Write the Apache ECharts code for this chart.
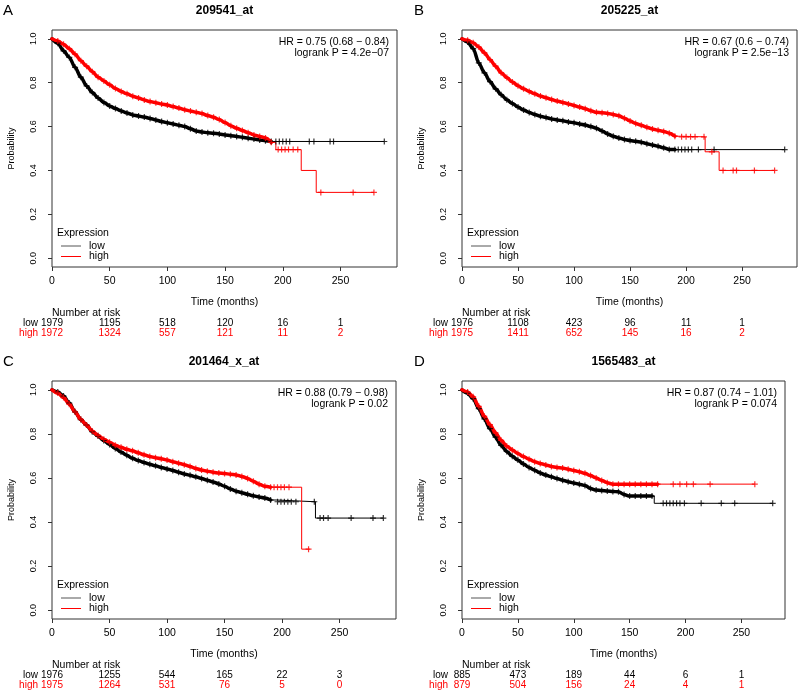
<!DOCTYPE html>
<html>
<head>
<meta charset="utf-8">
<script src="https://cdn.jsdelivr.net/npm/echarts@6/dist/echarts.min.js"></script>
<style>
  html, body { margin: 0; padding: 0; background: #fff; }
  #main { width: 800px; height: 695px; }
</style>
</head>
<body>
<div id="main"></div>
<script>
// time grid (months) for the dense part of the curves
var months = [0,5,10,15,20,25,30,35,40,45,50,55,60,65,70,75,80,85,90,95,100,105,110,115,120,125,130,135,140,145,150,155,160,165,170,175,180,185,190];
var xTicks = [0,50,100,150,200,250];
var yTicks = [0,0.2,0.4,0.6,0.8,1.0];

var titles = ['209541_at', '205225_at', '201464_x_at', '1565483_at'];
var hrLines = [
    ['HR = 0.75 (0.68 \u2212 0.84)', 'logrank P = 4.2e\u221207'],
    ['HR = 0.67 (0.6 \u2212 0.74)', 'logrank P = 2.5e\u221213'],
    ['HR = 0.88 (0.79 \u2212 0.98)', 'logrank P = 0.02'],
    ['HR = 0.87 (0.74 \u2212 1.01)', 'logrank P = 0.074']
];

// A : 209541_at
var aLow = [1.0,0.98,0.945,0.915,0.87,0.825,0.785,0.755,0.73,0.71,0.694,0.682,0.671,0.662,0.653,0.648,0.643,0.637,0.63,0.623,0.617,0.612,0.606,0.6,0.59,0.58,0.575,0.572,0.57,0.566,0.562,0.558,0.555,0.551,0.547,0.543,0.539,0.535,0.532];
var aLowTail = [[288,0.532]];
var aLowCens = [[194,0.532],[197,0.532],[200,0.532],[203,0.532],[206,0.532],[223,0.532],[227,0.532],[241,0.532],[244,0.532],[288,0.532]];
var aHigh = [1.0,0.99,0.975,0.955,0.93,0.9,0.875,0.85,0.825,0.808,0.79,0.773,0.76,0.749,0.738,0.73,0.721,0.714,0.709,0.703,0.698,0.691,0.684,0.677,0.671,0.665,0.659,0.65,0.642,0.632,0.618,0.604,0.592,0.582,0.572,0.562,0.555,0.548,0.528];
var aHighTail = [[194,0.495],[216,0.40],[229,0.30],[279,0.30]];
var aHighCens = [[196,0.495],[199,0.495],[202,0.495],[205,0.495],[209,0.495],[213,0.495],[233,0.30],[261,0.30],[279,0.30]];
var aRiskLow = [1979,1195,518,120,16,1];
var aRiskHigh = [1972,1324,557,121,11,2];

// B : 205225_at
var bLow = [1.0,0.985,0.955,0.89,0.845,0.805,0.772,0.745,0.722,0.705,0.689,0.675,0.664,0.655,0.647,0.641,0.635,0.63,0.626,0.621,0.617,0.612,0.607,0.6,0.592,0.58,0.566,0.556,0.548,0.541,0.536,0.533,0.529,0.522,0.516,0.51,0.503,0.496,0.495];
var bLowTail = [[288,0.495]];
var bLowCens = [[193,0.495],[196,0.495],[199,0.495],[202,0.495],[205,0.495],[211,0.495],[225,0.495],[288,0.495]];
var bHigh = [1.0,0.993,0.982,0.962,0.936,0.905,0.875,0.845,0.823,0.803,0.786,0.772,0.76,0.749,0.739,0.731,0.723,0.716,0.71,0.703,0.696,0.689,0.681,0.672,0.665,0.663,0.66,0.655,0.649,0.638,0.625,0.614,0.606,0.597,0.589,0.583,0.578,0.57,0.556];
var bHighTail = [[195,0.553],[217,0.485],[229.5,0.40],[279,0.40]];
var bHighCens = [[196,0.553],[200,0.553],[204,0.553],[208,0.553],[216,0.553],[223,0.485],[233,0.40],[242,0.40],[245,0.40],[261,0.40],[279,0.40]];
var bRiskLow = [1976,1108,423,96,11,1];
var bRiskHigh = [1975,1411,652,145,16,2];

// C : 201464_x_at
var cLow = [1.0,0.99,0.972,0.94,0.9,0.865,0.84,0.81,0.79,0.77,0.752,0.734,0.718,0.703,0.689,0.679,0.67,0.662,0.655,0.648,0.641,0.634,0.626,0.618,0.612,0.605,0.598,0.59,0.582,0.573,0.562,0.55,0.54,0.533,0.526,0.519,0.514,0.509,0.5];
var cLowTail = [[195,0.492],[229,0.418],[288,0.418]];
var cLowCens = [[196,0.492],[199,0.492],[202,0.492],[205,0.492],[208,0.492],[212,0.492],[228,0.492],[233,0.418],[236,0.418],[240,0.418],[260,0.418],[279,0.418],[288,0.418]];
var cHigh = [1.0,0.985,0.965,0.935,0.9,0.866,0.84,0.813,0.793,0.776,0.762,0.749,0.739,0.73,0.723,0.714,0.705,0.697,0.692,0.687,0.681,0.674,0.667,0.66,0.652,0.643,0.636,0.631,0.626,0.622,0.62,0.617,0.614,0.607,0.598,0.585,0.572,0.562,0.558];
var cHighTail = [[217,0.277],[224,0.277]];
var cHighCens = [[193,0.558],[196,0.558],[199,0.558],[202,0.558],[206,0.558],[223,0.277]];
var cRiskLow = [1976,1255,544,165,22,3];
var cRiskHigh = [1975,1264,531,76,5,0];

// D : 1565483_at
var dLow = [1.0,0.985,0.96,0.915,0.868,0.824,0.785,0.748,0.72,0.698,0.681,0.663,0.648,0.635,0.622,0.613,0.605,0.597,0.59,0.583,0.577,0.572,0.566,0.552,0.545,0.543,0.541,0.539,0.537,0.525,0.518,0.518,0.518,0.518,0.518];
var dLowTail = [[172,0.485],[278,0.485]];
var dLowCens = [[180,0.485],[183,0.485],[186,0.485],[189,0.485],[192,0.485],[195,0.485],[199,0.485],[214,0.485],[232,0.485],[244,0.485],[278,0.485]];
var dHigh = [1.0,0.99,0.968,0.925,0.88,0.842,0.805,0.771,0.745,0.727,0.711,0.697,0.685,0.674,0.666,0.659,0.652,0.648,0.645,0.64,0.634,0.628,0.621,0.611,0.6,0.589,0.578,0.572,0.572,0.572,0.572,0.572,0.572,0.572,0.572,0.572];
var dHighTail = [[262,0.572]];
var dHighCens = [[189,0.572],[195,0.572],[201,0.572],[207,0.572],[222,0.572],[262,0.572]];
var dRiskLow = [885,473,189,44,6,1];
var dRiskHigh = [879,504,156,24,4,1];

var RED = '#ff0000';
var INK = '#000';
var BOX = '#333';
var FONT = '"Liberation Sans", Arial, Helvetica, sans-serif';
var PLUS = 'path://M-1,-5H1V5H-1Z M-5,-1H5V1H-5Z';

// layout of the four panels
var panels = [
    { left: 52,  top: 30,  width: 345, height: 237, xMax: 299, letter: 'A', lx: 3,   ly: 11,
      low: aLow, lowTail: aLowTail, lowCens: aLowCens, high: aHigh, highTail: aHighTail, highCens: aHighCens, rLow: aRiskLow, rHigh: aRiskHigh },
    { left: 462, top: 30,  width: 335, height: 237, xMax: 299, letter: 'B', lx: 414, ly: 11,
      low: bLow, lowTail: bLowTail, lowCens: bLowCens, high: bHigh, highTail: bHighTail, highCens: bHighCens, rLow: bRiskLow, rHigh: bRiskHigh },
    { left: 52,  top: 381, width: 344, height: 238, xMax: 299, letter: 'C', lx: 3,   ly: 362,
      low: cLow, lowTail: cLowTail, lowCens: cLowCens, high: cHigh, highTail: cHighTail, highCens: cHighCens, rLow: cRiskLow, rHigh: cRiskHigh },
    { left: 462, top: 381, width: 323, height: 238, xMax: 289, letter: 'D', lx: 414, ly: 362,
      low: dLow, lowTail: dLowTail, lowCens: dLowCens, high: dHigh, highTail: dHighTail, highCens: dHighCens, rLow: dRiskLow, rHigh: dRiskHigh }
];

function curve(S) {
    var pts = [];
    for (var i = 0; i < S.length; i++) pts.push([months[i], S[i]]);
    return pts;
}
function tailCurve(S, tail) {
    return [[months[S.length - 1], S[S.length - 1]]].concat(tail);
}
function censors(S, tail) {
    var pts = [];
    for (var i = 1; i < S.length; i++) pts.push([months[i], S[i]]);
    return pts.concat(tail);
}

var grids = [], xAxes = [], riskAxes = [], yAxes = [], series = [], graphics = [];

panels.forEach(function (p, i) {
    var bottom = p.top + p.height;
    grids.push({
        left: p.left, top: p.top, width: p.width, height: p.height,
        show: true, borderColor: BOX, borderWidth: 1, outerBoundsMode: 'none'
    });
    xAxes.push({
        gridIndex: i, type: 'value', min: 0, max: p.xMax,
        name: 'Time (months)', nameLocation: 'middle', nameGap: 30, nameMoveOverlap: false,
        nameTextStyle: { fontSize: 10.5, color: INK, fontFamily: FONT },
        axisLine: { show: false, onZero: false },
        axisTick: { show: true, length: 4, customValues: xTicks, lineStyle: { color: BOX } },
        axisLabel: { customValues: xTicks, margin: 9, fontSize: 10.5, color: INK, fontFamily: FONT },
        splitLine: { show: false }
    });
    (function (rLow, rHigh) {
        riskAxes.push({
            gridIndex: i, type: 'value', min: 0, max: p.xMax, position: 'bottom', offset: 42,
            axisLine: { show: false, onZero: false }, axisTick: { show: false }, splitLine: { show: false },
            axisLabel: {
                customValues: xTicks, margin: 9, fontFamily: FONT,
                formatter: function (v) {
                    var k = xTicks.indexOf(v);
                    return '{l|' + rLow[k] + '}\n{h|' + rHigh[k] + '}';
                },
                rich: {
                    l: { color: INK, fontSize: 10, lineHeight: 10, fontFamily: FONT },
                    h: { color: RED, fontSize: 10, lineHeight: 10, fontFamily: FONT }
                }
            }
        });
    })(p.rLow, p.rHigh);
    yAxes.push({
        gridIndex: i, type: 'value', min: -0.04, max: 1.04,
        name: 'Probability', nameLocation: 'middle', nameGap: 36, nameRotate: 90, nameMoveOverlap: false,
        nameTextStyle: { fontSize: 9, color: INK, fontFamily: FONT },
        axisLine: { show: false, onZero: false },
        axisTick: { show: true, length: 4, customValues: yTicks, lineStyle: { color: BOX } },
        axisLabel: {
            customValues: yTicks, rotate: 90, margin: 14, fontSize: 9, color: INK, fontFamily: FONT,
            formatter: function (v) { return v.toFixed(1); }
        },
        splitLine: { show: false }
    });

    [[p.low, p.lowTail, p.lowCens, INK], [p.high, p.highTail, p.highCens, RED]].forEach(function (c) {
        // dense early part: many censored cases merge into a thick band
        series.push({
            type: 'line', xAxisIndex: i, yAxisIndex: i, showSymbol: false, silent: true,
            smooth: 0.3, smoothMonotone: 'x',
            lineStyle: { color: c[3], width: 3.5, cap: 'round', join: 'round' }, data: curve(c[0]), z: 2
        });
        // sparse tail: plain Kaplan-Meier steps
        series.push({
            type: 'line', xAxisIndex: i, yAxisIndex: i, step: 'end', showSymbol: false, silent: true,
            lineStyle: { color: c[3], width: 1 }, data: tailCurve(c[0], c[1]), z: 2
        });
        series.push({
            type: 'scatter', xAxisIndex: i, yAxisIndex: i, symbol: PLUS, symbolSize: 6, silent: true,
            itemStyle: { color: c[3] }, data: censors(c[0], c[2]), z: 3
        });
    });

    // panel letter, title, HR text
    graphics.push({ type: 'text', x: p.lx, y: p.ly, style: { text: p.letter, fontSize: 15, fontFamily: FONT, fill: INK, verticalAlign: 'middle' } });
    graphics.push({ type: 'text', x: p.left + p.width / 2, y: p.top - 19.5,
        style: { text: titles[i], fontSize: 12, fontWeight: 'bold', fontFamily: FONT, fill: INK, align: 'center', verticalAlign: 'middle' } });
    graphics.push({ type: 'text', x: p.left + p.width - 8, y: p.top + 12,
        style: { text: hrLines[i][0], fontSize: 10.5, fontFamily: FONT, fill: INK, align: 'right', verticalAlign: 'middle' } });
    graphics.push({ type: 'text', x: p.left + p.width - 8, y: p.top + 23,
        style: { text: hrLines[i][1], fontSize: 10.5, fontFamily: FONT, fill: INK, align: 'right', verticalAlign: 'middle' } });

    // legend
    graphics.push({ type: 'text', x: p.left + 5, y: bottom - 34,
        style: { text: 'Expression', fontSize: 10.5, fontFamily: FONT, fill: INK, verticalAlign: 'middle' } });
    [['low', '#555', 21], ['high', RED, 10.5]].forEach(function (e) {
        graphics.push({ type: 'line', shape: { x1: p.left + 9, y1: bottom - e[2], x2: p.left + 29, y2: bottom - e[2] },
            style: { stroke: e[1], lineWidth: 1 } });
        graphics.push({ type: 'text', x: p.left + 37, y: bottom - e[2],
            style: { text: e[0], fontSize: 10.5, fontFamily: FONT, fill: INK, verticalAlign: 'middle' } });
    });

    // number at risk block
    graphics.push({ type: 'text', x: p.left, y: bottom + 46,
        style: { text: 'Number at risk', fontSize: 10.5, fontFamily: FONT, fill: INK, verticalAlign: 'middle' } });
    graphics.push({ type: 'text', x: p.left - 14, y: bottom + 56,
        style: { text: 'low', fontSize: 10, fontFamily: FONT, fill: INK, align: 'right', verticalAlign: 'middle' } });
    graphics.push({ type: 'text', x: p.left - 14, y: bottom + 66,
        style: { text: 'high', fontSize: 10, fontFamily: FONT, fill: RED, align: 'right', verticalAlign: 'middle' } });
});

var chart = echarts.init(document.getElementById('main'), null, { renderer: 'canvas' });
chart.setOption({
    animation: false,
    backgroundColor: '#fff',
    textStyle: { fontFamily: FONT },
    grid: grids,
    xAxis: xAxes.concat(riskAxes),
    yAxis: yAxes,
    series: series,
    graphic: graphics
});
</script>
</body>
</html>
